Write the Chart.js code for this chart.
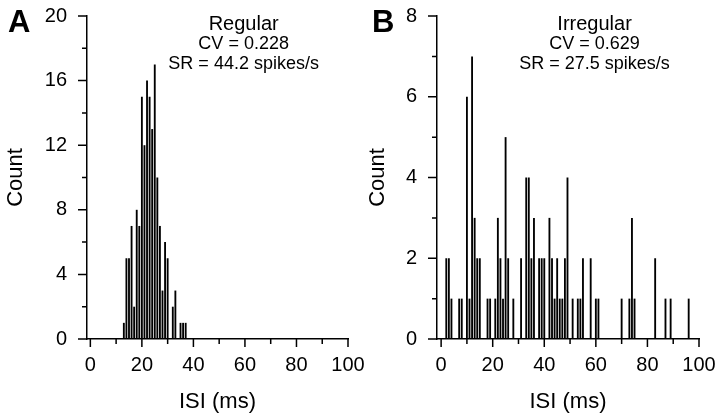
<!DOCTYPE html>
<html>
<head>
<meta charset="utf-8">
<script src="https://cdn.jsdelivr.net/npm/chart.js@4.4.1/dist/chart.umd.min.js"></script>
<style>
  body { margin: 0; background: #fff; }
  #wrap { position: relative; width: 720px; height: 419px; overflow: hidden; }
  canvas { position: absolute; top: 0; }
  #regular { left: 0; }
  #irregular { left: 360px; }
</style>
</head>
<body>
<div id="wrap">
  <canvas id="regular" width="400" height="419"></canvas>
  <canvas id="irregular" width="360" height="419"></canvas>
</div>
<script>
// ISI histogram bins (ms) and counts
const regularIsi = [13, 14, 15, 16, 17, 18, 19, 20, 21, 22, 23, 24, 25, 26, 27, 28, 29, 30, 31, 32, 33, 34, 35, 36, 37];
const regularCount = [1, 5, 5, 7, 2, 8, 7, 15, 12, 16, 15, 13, 17, 10, 7, 3, 6, 5, 0, 2, 3, 0, 1, 1, 1];

const irregularIsi = [2, 3, 4, 7, 8, 10, 11, 12, 13, 14, 15, 18, 19, 21, 22, 23, 24, 25, 26, 28, 31, 33, 34, 35, 36,
    38, 39, 40, 42, 43, 44, 45, 46, 47, 48, 49, 51, 53, 54, 55, 58, 60, 61, 70, 73, 74, 75, 83, 87, 89, 96];
const irregularCount = [2, 2, 1, 1, 1, 6, 1, 7, 3, 2, 2, 1, 1, 1, 3, 2, 1, 5, 2, 1, 2, 4, 4, 2, 3,
    2, 2, 2, 3, 2, 1, 2, 1, 1, 2, 4, 1, 1, 1, 2, 2, 1, 1, 1, 1, 3, 1, 2, 1, 1, 1];

const xTickLabels = [0, 20, 40, 60, 80, 100];
const regularText = ["Regular", "CV = 0.228", "SR = 44.2 spikes/s"];
const irregularText = ["Irregular", "CV = 0.629", "SR = 27.5 spikes/s"];

const FONT = "'Liberation Sans', Arial, sans-serif";
Chart.defaults.font.family = FONT;
Chart.defaults.color = "#000";

// tick marks (long at labels, short in between), panel letter and the text block
const panelDecor = {
    id: "panelDecor",
    afterDraw(chart, args, opts) {
        const ctx = chart.ctx;
        const area = chart.chartArea;
        const x = chart.scales.x, y = chart.scales.y;
        ctx.save();
        ctx.strokeStyle = "#000";
        ctx.lineWidth = 1.5;
        ctx.beginPath();
        for (let v = 0; v <= 100; v += 10) {
            const px = x.getPixelForValue(v);
            ctx.moveTo(px, area.bottom);
            ctx.lineTo(px, area.bottom + (v % 20 === 0 ? 8 : 5));
        }
        for (let v = 0; v <= opts.yMax; v += opts.yStep / 2) {
            const py = y.getPixelForValue(v);
            ctx.moveTo(area.left, py);
            ctx.lineTo(area.left - (v % opts.yStep === 0 ? 9 : 5), py);
        }
        ctx.stroke();

        ctx.fillStyle = "#000";
        ctx.textAlign = "left";
        ctx.textBaseline = "alphabetic";
        ctx.font = "bold 31px " + FONT;
        ctx.fillText(opts.letter, opts.letterX, 32);

        ctx.textAlign = "center";
        const cx = x.getPixelForValue(59.5);
        ctx.font = "20px " + FONT;
        ctx.fillText(opts.lines[0], cx, 30);
        ctx.font = "18px " + FONT;
        ctx.fillText(opts.lines[1], cx, 49);
        ctx.fillText(opts.lines[2], cx, 69);
        ctx.restore();
    }
};

function makeHistogram(id, bins, counts, o) {
    const points = bins.map((b, i) => ({ x: b, y: counts[i] }));
    return new Chart(document.getElementById(id), {
        type: "bar",
        data: {
            datasets: [{
                data: points,
                backgroundColor: "#000",
                borderWidth: 0,
                barPercentage: 0.72,
                categoryPercentage: 1
            }]
        },
        options: {
            responsive: false,
            animation: false,
            devicePixelRatio: 1,
            layout: { padding: { left: 0, top: 16, right: o.padRight, bottom: 0 } },
            plugins: {
                legend: { display: false },
                tooltip: { enabled: false },
                panelDecor: o
            },
            scales: {
                x: {
                    type: "linear",
                    offset: false,
                    min: o.xMin,
                    max: 100,
                    afterBuildTicks: s => { s.ticks = xTickLabels.map(v => ({ value: v })); },
                    afterFit: s => { s.height = 80; s.paddingLeft = 0; s.paddingRight = 0; },
                    grid: { display: false, drawTicks: false, offset: false },
                    border: { display: true, color: "#000", width: 1.5 },
                    ticks: { padding: 14, maxRotation: 0, font: { size: 20 } },
                    title: { display: true, text: "ISI (ms)", font: { size: 22 }, padding: { top: 0, bottom: 4 } }
                },
                y: {
                    min: 0,
                    max: o.yMax,
                    afterFit: s => { s.width = o.yWidth; s.paddingTop = 0; s.paddingBottom = 0; },
                    grid: { display: false, drawTicks: false },
                    border: { display: true, color: "#000", width: 1.5 },
                    ticks: { stepSize: o.yStep, padding: 20, font: { size: 20 } },
                    title: { display: true, text: "Count", font: { size: 22 }, padding: { top: o.titlePad, bottom: 0 } }
                }
            }
        },
        plugins: [panelDecor]
    });
}

makeHistogram("regular", regularIsi, regularCount, {
    xMin: -1.3, yMax: 20, yStep: 4, yWidth: 87, padRight: 52, titlePad: 3,
    letter: "A", letterX: 8, lines: regularText
});
makeHistogram("irregular", irregularIsi, irregularCount, {
    xMin: -1.6, yMax: 8, yStep: 2, yWidth: 77, padRight: 21, titlePad: 5,
    letter: "B", letterX: 12, lines: irregularText
});
</script>
</body>
</html>
